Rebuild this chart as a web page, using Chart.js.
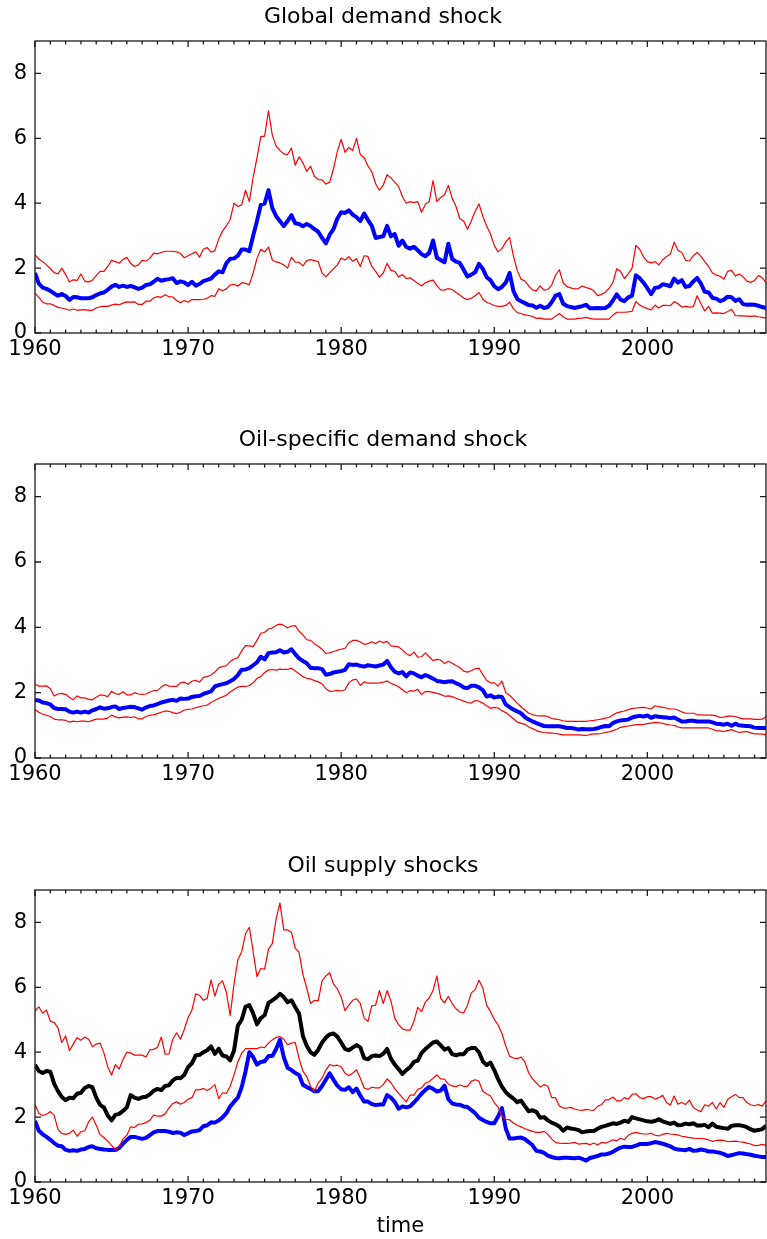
<!DOCTYPE html>
<html>
<head>
<meta charset="utf-8">
<title>Shock contributions</title>
<script src="https://cdn.jsdelivr.net/npm/chart.js@4.4.1/dist/chart.umd.min.js"></script>
<style>
body{margin:0;background:#fff;}
canvas{position:absolute;left:0;}
</style>
</head>
<body>
<canvas id="globalChart" width="767" height="363" style="top:0px;width:767px;height:363px"></canvas>
<canvas id="oilChart" width="767" height="365" style="top:423px;width:767px;height:365px"></canvas>
<canvas id="supplyChart" width="767" height="390" style="top:849px;width:767px;height:390px"></canvas>
<script>
// quarterly series, 1960Q1 .. 2007Q4 (two years per row)
const startYear = 1960;
const xTicks = [1960, 1970, 1980, 1990, 2000];
const yTicks = [0, 2, 4, 6, 8];
const titles = ["Global demand shock", "Oil-specific demand shock", "Oil supply shocks"];
const xTitle = "time";

const globalMid = [
1.85,1.52,1.4,1.36, 1.3,1.22,1.15,1.2,
1.14,1.02,1.11,1.1, 1.07,1.07,1.07,1.1,
1.17,1.22,1.25,1.33, 1.43,1.49,1.42,1.46,
1.42,1.45,1.41,1.36, 1.4,1.48,1.5,1.58,
1.67,1.61,1.64,1.66, 1.69,1.54,1.59,1.56,
1.48,1.58,1.46,1.51, 1.6,1.64,1.68,1.8,
1.9,1.87,2.15,2.29, 2.3,2.38,2.57,2.57,
2.52,3.0,3.45,3.95, 3.99,4.4,3.85,3.6,
3.45,3.3,3.45,3.63, 3.38,3.36,3.29,3.36,
3.3,3.2,3.12,2.93, 2.76,3.03,3.2,3.53,
3.72,3.7,3.78,3.65, 3.57,3.45,3.68,3.48,
3.3,2.93,2.96,2.98, 3.3,2.98,3.05,2.69,
2.85,2.65,2.6,2.66, 2.55,2.43,2.37,2.47,
2.85,2.32,2.25,2.18, 2.75,2.28,2.2,2.16,
1.95,1.74,1.8,1.87, 2.13,1.98,1.72,1.63,
1.44,1.35,1.42,1.55, 1.85,1.3,1.05,0.98,
0.92,0.86,0.85,0.78, 0.84,0.77,0.8,0.95,
1.15,1.2,0.9,0.83, 0.8,0.77,0.8,0.83,
0.87,0.76,0.76,0.77, 0.76,0.77,0.84,1.0,
1.19,1.03,0.98,1.1, 1.15,1.78,1.69,1.55,
1.38,1.2,1.39,1.41, 1.5,1.48,1.44,1.68,
1.55,1.63,1.42,1.45, 1.59,1.7,1.52,1.27,
1.25,1.08,1.06,0.98, 1.03,1.12,1.1,0.99,
1.04,0.89,0.87,0.88, 0.87,0.84,0.8,0.77
];
const globalUpper = [
2.41,2.28,2.2,2.1, 1.98,1.86,1.82,2.0,
1.8,1.57,1.64,1.62, 1.82,1.6,1.57,1.63,
1.77,1.9,1.9,2.05, 2.24,2.2,2.15,2.27,
2.33,2.14,2.05,2.1, 2.24,2.22,2.3,2.46,
2.44,2.48,2.52,2.52, 2.52,2.5,2.45,2.32,
2.38,2.44,2.5,2.34, 2.58,2.63,2.49,2.54,
2.9,3.14,3.3,3.5, 4.0,3.9,3.95,4.4,
4.05,4.8,5.4,6.05, 6.07,6.85,6.1,5.76,
5.63,5.52,5.5,5.7, 5.17,5.43,5.25,4.98,
5.14,4.83,4.73,4.72, 4.59,4.65,5.07,5.6,
5.97,5.57,5.72,5.62, 6.0,5.5,5.4,5.15,
4.97,4.6,4.4,4.56, 4.88,4.78,4.65,4.52,
4.2,4.0,4.05,4.02, 4.05,3.72,3.97,4.05,
4.7,4.05,4.18,4.26, 4.55,4.15,3.9,3.52,
3.45,3.2,3.45,3.75, 3.98,3.6,3.3,3.05,
2.7,2.5,2.6,2.8, 2.95,2.38,1.93,1.66,
1.6,1.45,1.33,1.3, 1.45,1.32,1.34,1.48,
1.78,1.95,1.55,1.43, 1.39,1.36,1.37,1.45,
1.4,1.37,1.3,1.15, 1.19,1.25,1.38,1.55,
1.98,1.9,1.68,1.82, 2.0,2.7,2.58,2.35,
2.2,2.16,2.2,2.1, 2.25,2.36,2.43,2.8,
2.55,2.48,2.24,2.22, 2.38,2.48,2.36,2.2,
2.05,1.85,1.79,1.75, 1.66,1.9,1.93,1.76,
1.82,1.73,1.6,1.56, 1.62,1.77,1.7,1.56
];
const globalLower = [
1.23,1.1,0.95,0.9, 0.9,0.85,0.79,0.77,
0.74,0.7,0.74,0.7, 0.71,0.72,0.7,0.7,
0.77,0.81,0.82,0.82, 0.86,0.89,0.87,0.92,
0.96,0.95,0.96,0.88, 0.88,0.98,0.98,1.08,
1.12,1.1,1.18,1.12, 1.11,1.0,0.93,1.0,
0.95,1.03,1.03,1.03, 1.04,1.07,1.15,1.13,
1.36,1.3,1.36,1.48, 1.5,1.44,1.55,1.53,
1.49,1.85,2.3,2.58, 2.5,2.65,2.25,2.19,
2.16,2.1,2.0,2.34, 2.18,2.18,2.07,2.23,
2.26,2.23,2.2,1.85, 1.73,1.86,1.98,2.1,
2.31,2.25,2.35,2.21, 2.29,2.05,2.38,2.36,
2.05,1.9,1.72,1.85, 2.15,1.93,1.9,1.73,
1.8,1.68,1.7,1.62, 1.53,1.45,1.55,1.6,
1.63,1.46,1.33,1.32, 1.37,1.34,1.25,1.17,
1.08,1.03,1.07,1.15, 1.25,1.05,0.95,0.9,
0.84,0.82,0.82,0.85, 0.95,0.75,0.63,0.6,
0.56,0.54,0.51,0.45, 0.46,0.43,0.43,0.43,
0.52,0.6,0.5,0.43, 0.43,0.43,0.45,0.46,
0.48,0.45,0.43,0.43, 0.43,0.43,0.43,0.55,
0.64,0.64,0.64,0.65, 0.67,0.97,0.86,0.8,
0.75,0.71,0.86,0.77, 0.85,0.85,0.84,0.97,
0.9,0.8,0.82,0.8, 0.81,1.15,0.9,0.68,
0.82,0.61,0.62,0.61, 0.6,0.66,0.73,0.54,
0.53,0.53,0.52,0.51, 0.53,0.5,0.48,0.46
];

const oilMid = [
1.78,1.76,1.7,1.68, 1.64,1.53,1.5,1.5,
1.49,1.42,1.39,1.42, 1.39,1.42,1.39,1.46,
1.5,1.55,1.51,1.52, 1.56,1.58,1.5,1.53,
1.55,1.57,1.56,1.52, 1.48,1.55,1.59,1.61,
1.65,1.7,1.73,1.76, 1.78,1.75,1.82,1.81,
1.82,1.87,1.89,1.9, 1.96,2.0,2.04,2.19,
2.23,2.26,2.29,2.35, 2.42,2.54,2.7,2.71,
2.75,2.84,2.93,3.1, 3.02,3.21,3.23,3.24,
3.3,3.23,3.25,3.33, 3.18,3.05,2.97,2.9,
2.76,2.75,2.75,2.72, 2.55,2.57,2.62,2.64,
2.66,2.7,2.87,2.85, 2.86,2.82,2.8,2.84,
2.82,2.8,2.83,2.86, 2.97,2.78,2.64,2.59,
2.63,2.5,2.62,2.59, 2.52,2.47,2.54,2.49,
2.43,2.36,2.34,2.32, 2.34,2.35,2.29,2.24,
2.16,2.14,2.21,2.21, 2.16,2.08,1.88,1.92,
1.85,1.88,1.87,1.64, 1.56,1.48,1.43,1.37,
1.25,1.18,1.12,1.07, 1.02,0.98,0.97,0.97,
0.97,0.97,0.95,0.92, 0.92,0.9,0.87,0.89,
0.88,0.88,0.89,0.91, 0.95,0.98,0.97,1.07,
1.12,1.15,1.16,1.18, 1.24,1.27,1.29,1.27,
1.3,1.23,1.28,1.26, 1.25,1.24,1.22,1.24,
1.18,1.12,1.12,1.14, 1.14,1.12,1.12,1.12,
1.12,1.09,1.05,1.04, 1.02,1.05,0.99,1.05,
1.0,0.99,0.98,0.97, 0.93,0.92,0.92,0.92
];
const oilUpper = [
2.26,2.2,2.2,2.21, 2.12,1.9,1.96,1.98,
1.95,1.85,1.78,1.9, 1.84,1.84,1.8,1.78,
1.86,1.93,1.92,1.88, 2.04,1.97,1.95,2.03,
1.93,1.93,2.0,1.96, 1.95,1.96,2.02,2.06,
2.07,2.17,2.25,2.2, 2.19,2.19,2.3,2.32,
2.26,2.35,2.38,2.32, 2.47,2.49,2.54,2.63,
2.76,2.8,2.83,2.95, 3.03,3.07,3.28,3.44,
3.43,3.41,3.6,3.82, 3.85,3.95,3.98,4.06,
4.1,4.06,3.98,4.04, 4.05,3.88,3.77,3.62,
3.6,3.5,3.42,3.33, 3.2,3.22,3.26,3.3,
3.33,3.36,3.52,3.6, 3.6,3.55,3.48,3.5,
3.56,3.5,3.58,3.53, 3.57,3.43,3.42,3.4,
3.31,3.2,3.13,3.24, 3.09,3.1,3.22,3.1,
2.98,3.02,3.0,2.89, 2.96,2.9,2.83,2.77,
2.66,2.63,2.67,2.73, 2.75,2.55,2.38,2.3,
2.3,2.2,2.35,2.0, 1.92,1.8,1.68,1.57,
1.47,1.37,1.33,1.3, 1.29,1.29,1.27,1.21,
1.19,1.17,1.14,1.12, 1.12,1.12,1.12,1.12,
1.12,1.14,1.15,1.17, 1.19,1.22,1.24,1.32,
1.38,1.41,1.44,1.48, 1.51,1.53,1.54,1.55,
1.53,1.5,1.6,1.57, 1.55,1.53,1.5,1.5,
1.47,1.41,1.37,1.37, 1.37,1.33,1.32,1.31,
1.31,1.31,1.29,1.24, 1.25,1.28,1.28,1.27,
1.23,1.2,1.2,1.2, 1.18,1.18,1.19,1.26
];
const oilLower = [
1.48,1.4,1.34,1.31, 1.27,1.19,1.17,1.17,
1.15,1.1,1.13,1.11, 1.13,1.13,1.11,1.15,
1.19,1.19,1.19,1.22, 1.31,1.26,1.23,1.25,
1.26,1.24,1.26,1.2, 1.2,1.27,1.31,1.32,
1.36,1.4,1.44,1.43, 1.39,1.36,1.4,1.47,
1.49,1.5,1.54,1.57, 1.6,1.62,1.7,1.76,
1.83,1.87,1.92,2.02, 2.1,2.17,2.19,2.19,
2.22,2.3,2.44,2.49, 2.62,2.69,2.71,2.69,
2.72,2.71,2.71,2.75, 2.66,2.58,2.49,2.44,
2.42,2.37,2.33,2.27, 2.12,2.04,2.05,2.07,
2.05,2.09,2.3,2.39, 2.41,2.22,2.33,2.29,
2.29,2.29,2.3,2.32, 2.36,2.29,2.24,2.18,
2.09,2.0,2.06,2.05, 2.1,1.94,2.04,2.03,
2.01,1.98,1.95,1.89, 1.9,1.88,1.83,1.79,
1.74,1.7,1.68,1.76, 1.74,1.68,1.6,1.52,
1.55,1.53,1.45,1.39, 1.3,1.2,1.1,1.06,
1.03,0.95,0.9,0.84, 0.8,0.78,0.77,0.76,
0.75,0.73,0.71,0.71, 0.71,0.71,0.71,0.7,
0.69,0.72,0.74,0.74, 0.75,0.78,0.8,0.84,
0.88,0.94,0.96,0.98, 1.0,1.02,1.02,1.03,
1.05,1.07,1.09,1.08, 1.06,1.03,1.01,1.0,
0.95,0.92,0.92,0.92, 0.92,0.92,0.92,0.92,
0.92,0.88,0.84,0.83, 0.81,0.84,0.87,0.82,
0.78,0.8,0.81,0.77, 0.74,0.74,0.73,0.71
];

const supplyMid = [
3.61,3.42,3.36,3.42, 3.4,3.03,2.8,2.62,
2.52,2.6,2.58,2.72, 2.75,2.9,2.96,2.92,
2.6,2.38,2.3,2.05, 1.9,2.07,2.1,2.19,
2.3,2.68,2.6,2.56, 2.61,2.63,2.7,2.81,
2.87,2.83,2.96,2.98, 3.13,3.21,3.2,3.3,
3.54,3.66,3.9,3.92, 4.0,4.06,4.18,3.95,
4.11,3.9,3.87,3.75, 4.05,4.82,5.0,5.4,
5.45,5.2,4.86,5.05, 5.14,5.52,5.6,5.68,
5.8,5.7,5.54,5.6, 5.39,5.19,4.5,4.2,
4.0,3.92,4.07,4.3, 4.45,4.55,4.58,4.48,
4.3,4.1,4.06,4.14, 4.22,4.15,3.82,3.78,
3.88,3.9,3.88,3.95, 4.1,3.8,3.62,3.48,
3.33,3.45,3.54,3.7, 3.74,3.97,4.1,4.2,
4.3,4.33,4.21,4.08, 4.13,3.94,3.9,3.94,
3.94,4.08,4.13,4.13, 4.0,3.72,3.6,3.68,
3.45,3.17,2.94,2.77, 2.66,2.57,2.46,2.51,
2.34,2.18,2.21,2.16, 1.98,2.0,1.9,1.83,
1.78,1.71,1.58,1.68, 1.65,1.63,1.6,1.53,
1.56,1.57,1.57,1.64, 1.7,1.73,1.77,1.81,
1.79,1.83,1.89,1.85, 2.0,1.96,1.93,1.9,
1.87,1.86,1.88,1.93, 1.87,1.83,1.79,1.83,
1.75,1.76,1.8,1.78, 1.81,1.74,1.74,1.76,
1.69,1.8,1.7,1.68, 1.66,1.64,1.73,1.75,
1.75,1.73,1.69,1.62, 1.58,1.6,1.63,1.73
];
const supplyUpper = [
5.27,5.4,5.2,5.3, 4.95,4.92,4.75,4.3,
4.5,4.05,4.25,4.45, 4.37,4.47,4.4,4.17,
4.25,4.28,3.98,3.55, 3.3,3.62,3.48,3.78,
4.0,3.98,3.91,3.91, 3.91,3.85,4.07,4.09,
4.15,4.47,3.94,3.95, 4.4,4.6,4.4,4.7,
5.07,5.3,5.8,5.75, 5.6,5.66,6.23,5.73,
6.1,6.2,5.85,5.13, 6.1,6.85,7.1,7.65,
7.85,7.1,6.33,6.58, 6.56,7.18,7.35,8.1,
8.6,7.77,7.77,7.7, 7.2,7.08,6.4,5.98,
5.5,5.6,5.58,6.2, 6.35,6.45,6.1,5.95,
5.7,5.28,5.45,5.6, 5.65,5.5,5.05,4.95,
5.43,5.45,5.9,5.5, 5.9,5.58,5.05,4.85,
4.72,4.68,4.68,4.95, 5.38,5.25,5.55,5.67,
5.9,6.35,5.67,5.52, 5.72,5.5,5.34,5.24,
5.21,5.45,5.83,5.93, 6.22,5.98,5.45,5.25,
5.02,4.84,4.58,4.2, 3.88,3.82,3.8,3.85,
3.7,3.36,3.18,3.05, 2.93,3.0,2.95,2.6,
2.6,2.34,2.28,2.28, 2.3,2.25,2.22,2.21,
2.24,2.22,2.21,2.33, 2.38,2.53,2.54,2.62,
2.5,2.5,2.6,2.55, 2.7,2.72,2.6,2.57,
2.63,2.63,2.55,2.6, 2.67,2.45,2.37,2.65,
2.4,2.45,2.39,2.52, 2.3,2.22,2.17,2.38,
2.34,2.45,2.25,2.45, 2.3,2.55,2.63,2.7,
2.6,2.6,2.45,2.38, 2.35,2.39,2.34,2.5
];
const supplyLower = [
2.39,2.12,2.04,2.09, 2.17,2.06,1.62,1.5,
1.47,1.5,1.6,1.41, 1.55,1.58,1.85,2.0,
1.75,1.46,1.37,1.26, 1.13,1.0,1.07,1.33,
1.44,1.7,1.68,1.78, 1.79,1.83,1.9,2.06,
2.03,2.03,2.1,2.28, 2.42,2.47,2.4,2.45,
2.55,2.6,2.84,2.84, 2.88,2.82,2.9,3.0,
2.57,2.75,2.73,2.95, 3.3,3.7,3.97,4.11,
4.11,4.11,4.11,4.16, 4.14,4.28,4.38,4.46,
4.48,4.4,4.23,4.28, 4.3,3.8,3.42,3.25,
2.95,2.8,3.05,3.2, 3.45,3.62,3.58,3.6,
3.55,3.35,3.28,3.35, 3.46,3.2,2.9,2.85,
2.92,2.9,2.9,3.0, 3.18,3.06,2.88,2.73,
2.6,2.47,2.68,2.68, 2.86,2.9,3.05,3.09,
3.2,3.3,3.18,3.17, 3.02,2.96,2.94,2.99,
2.95,2.95,3.1,3.15, 3.1,2.8,2.72,2.65,
2.45,2.3,2.04,1.93, 1.92,1.82,1.75,1.7,
1.64,1.6,1.56,1.53, 1.53,1.56,1.47,1.33,
1.22,1.2,1.19,1.19, 1.2,1.22,1.17,1.18,
1.19,1.15,1.2,1.14, 1.22,1.2,1.24,1.3,
1.27,1.35,1.3,1.44, 1.5,1.53,1.5,1.48,
1.48,1.5,1.44,1.42, 1.47,1.5,1.48,1.47,
1.45,1.41,1.39,1.37, 1.35,1.34,1.34,1.33,
1.3,1.25,1.28,1.29, 1.28,1.24,1.25,1.26,
1.24,1.23,1.2,1.17, 1.12,1.13,1.16,1.13
];
const supplyAlt = [
1.88,1.58,1.47,1.39, 1.3,1.2,1.12,1.1,
0.99,0.96,0.98,0.96, 1.0,1.02,1.08,1.1,
1.04,1.02,1.0,0.99, 0.99,0.99,1.05,1.18,
1.3,1.39,1.39,1.36, 1.33,1.36,1.44,1.53,
1.57,1.57,1.57,1.55, 1.51,1.53,1.52,1.45,
1.5,1.56,1.57,1.6, 1.72,1.75,1.84,1.83,
1.9,1.99,2.12,2.33, 2.47,2.6,2.92,3.4,
4.0,3.85,3.62,3.7, 3.72,3.88,3.88,4.1,
4.38,3.85,3.52,3.45, 3.36,3.3,3.0,2.93,
2.87,2.8,2.8,2.96, 3.15,3.35,3.15,2.97,
2.86,2.84,2.92,2.77, 2.88,2.66,2.48,2.48,
2.4,2.37,2.39,2.39, 2.68,2.6,2.47,2.26,
2.33,2.3,2.33,2.45, 2.58,2.72,2.84,2.93,
2.87,2.79,2.82,2.97, 2.55,2.42,2.39,2.38,
2.33,2.31,2.22,2.12, 1.98,1.91,1.85,1.81,
1.81,2.02,2.28,1.65, 1.34,1.34,1.36,1.37,
1.32,1.23,1.13,0.96, 0.94,0.9,0.81,0.77,
0.74,0.73,0.75,0.75, 0.74,0.73,0.75,0.71,
0.66,0.74,0.77,0.8, 0.85,0.85,0.88,0.93,
1.0,1.06,1.09,1.08, 1.08,1.12,1.17,1.17,
1.17,1.2,1.23,1.21, 1.18,1.14,1.1,1.03,
1.0,0.99,0.98,1.02, 0.96,0.97,1.0,0.98,
0.94,0.94,0.92,0.9, 0.86,0.8,0.83,0.86,
0.89,0.88,0.86,0.84, 0.81,0.79,0.77,0.77
];

const BLUE = "#0000ff", RED = "#ff0000", BLACK = "#000000";
const FONT = "DejaVu Sans";

function toPoints(values){
  return values.map((v, i) => ({x: startYear + i / 4, y: v}));
}

// frame with inward ticks on all four sides
const framePlugin = {
  id: 'frame',
  afterDatasetsDraw(chart){
    const {ctx, chartArea: a, scales: {x, y}} = chart;
    ctx.save();
    ctx.strokeStyle = "#1a1a1a";
    ctx.lineWidth = 1.3;
    ctx.strokeRect(a.left, a.top, a.right - a.left, a.bottom - a.top);
    ctx.beginPath();
    for (let yr = 1960; yr <= 2007; yr++) {
      const px = x.getPixelForValue(yr);
      const len = yr % 10 === 0 ? 6 : 3.5;
      ctx.moveTo(px, a.bottom); ctx.lineTo(px, a.bottom - len);
      ctx.moveTo(px, a.top); ctx.lineTo(px, a.top + len);
    }
    yTicks.forEach(v => {
      const py = y.getPixelForValue(v);
      ctx.moveTo(a.left, py); ctx.lineTo(a.left + 6, py);
      ctx.moveTo(a.right, py); ctx.lineTo(a.right - 6, py);
    });
    ctx.stroke();
    ctx.restore();
  }
};

function makeChart(id, title, series, axisTitle){
  const tickFont = {family: FONT, size: 21};
  return new Chart(document.getElementById(id), {
    type: 'line',
    data: {
      datasets: series.map(s => ({
        data: toPoints(s.values),
        borderColor: s.color,
        borderWidth: s.width,
        pointRadius: 0,
        tension: 0,
        fill: false,
        borderJoinStyle: 'round'
      }))
    },
    options: {
      responsive: false,
      animation: false,
      devicePixelRatio: 1,
      layout: {padding: {right: 1}},
      plugins: {
        legend: {display: false},
        tooltip: {enabled: false},
        title: {
          display: true,
          text: title,
          color: "#000",
          font: {family: FONT, size: 22, weight: 'normal'},
          padding: {top: 4, bottom: 10.6}
        }
      },
      scales: {
        x: {
          type: 'linear',
          min: 1960,
          max: 2007.75,
          grid: {display: false, drawTicks: false},
          border: {display: false},
          afterBuildTicks: s => { s.ticks = xTicks.map(v => ({value: v})); },
          afterFit: s => { s.height = axisTitle ? 57 : 30; },
          ticks: {font: tickFont, color: "#000", padding: 4, maxRotation: 0, autoSkip: false, callback: v => String(v)},
          title: {display: !!axisTitle, text: axisTitle || "", color: "#000", font: tickFont, padding: {top: 0, bottom: 0}}
        },
        y: {
          min: 0,
          max: 9,
          grid: {display: false, drawTicks: false},
          border: {display: false},
          afterBuildTicks: s => { s.ticks = yTicks.map(v => ({value: v})); },
          afterFit: s => { s.width = 35; },
          ticks: {font: tickFont, color: "#000", padding: 8, callback: v => String(v)}
        }
      }
    },
    plugins: [framePlugin]
  });
}

makeChart('globalChart', titles[0], [
  {values: globalUpper, color: RED, width: 1.2},
  {values: globalLower, color: RED, width: 1.2},
  {values: globalMid, color: BLUE, width: 4}
]);

makeChart('oilChart', titles[1], [
  {values: oilUpper, color: RED, width: 1.2},
  {values: oilLower, color: RED, width: 1.2},
  {values: oilMid, color: BLUE, width: 4}
]);

makeChart('supplyChart', titles[2], [
  {values: supplyUpper, color: RED, width: 1.2},
  {values: supplyLower, color: RED, width: 1.2},
  {values: supplyMid, color: BLACK, width: 4},
  {values: supplyAlt, color: BLUE, width: 4}
], xTitle);
</script>
</body>
</html>
